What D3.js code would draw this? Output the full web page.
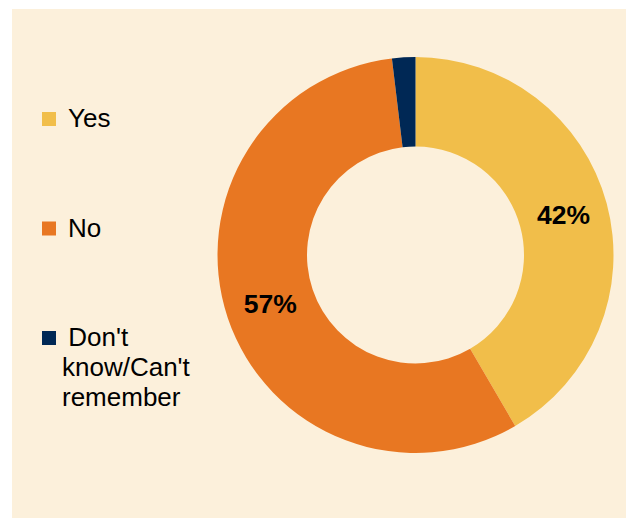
<!DOCTYPE html>
<html>
<head>
<meta charset="utf-8">
<script src="https://cdn.jsdelivr.net/npm/d3@7"></script>
<style>
  html, body { margin: 0; padding: 0; background: #ffffff; }
  svg { display: block; }
</style>
</head>
<body>
<svg id="chart" width="626" height="518"></svg>
<script>
const categories = ["Yes", "No", "Don't know/Can't remember"];
const values = [41.6, 56.5, 1.9];
const valueLabels = ["42%", "57%", ""];
const colors = ["#F1BE4A", "#E87722", "#002855"];
const legendLines = [["Yes"], ["No"], [" Don't", "know/Can't", "remember"]];

const svg = d3.select("#chart");
svg.append("rect").attr("x", 12).attr("y", 9).attr("width", 614).attr("height", 509).attr("fill", "#FCF0DB");

const cx = 415.5, cy = 255, rOuter = 198, rInner = 108.5;
const pie = d3.pie().sort(null).value(d => d)(values);
const arc = d3.arc().innerRadius(rInner).outerRadius(rOuter);
const g = svg.append("g").attr("transform", `translate(${cx},${cy})`);
g.selectAll("path").data(pie).join("path").attr("d", arc).attr("fill", (d, i) => colors[i]);
g.selectAll("text").data(pie).join("text")
  .attr("transform", d => `translate(${arc.centroid(d)})`)
  .attr("text-anchor", "middle").attr("dy", "0.35em")
  .attr("font-family", "Liberation Sans, Arial, sans-serif").attr("font-weight", "bold").attr("font-size", 26.5)
  .attr("fill", "#000").text((d, i) => valueLabels[i]);

const legendY = d3.scalePoint().domain(categories).range([127, 346]);
const lg = svg.append("g");
categories.forEach((c, i) => {
  const y = legendY(c);
  lg.append("rect").attr("x", 42).attr("y", y - 15).attr("width", 14).attr("height", 14).attr("fill", colors[i]);
  const t = lg.append("text").attr("font-family", "Liberation Sans, Arial, sans-serif").attr("font-size", 26).attr("fill", "#000")
    .attr("xml:space", "preserve");
  legendLines[i].forEach((ln, j) => {
    t.append("tspan").attr("x", j === 0 ? (i === 2 ? 61 : 68) : 62).attr("y", y + j * 30).text(ln);
  });
});
</script>
</body>
</html>
